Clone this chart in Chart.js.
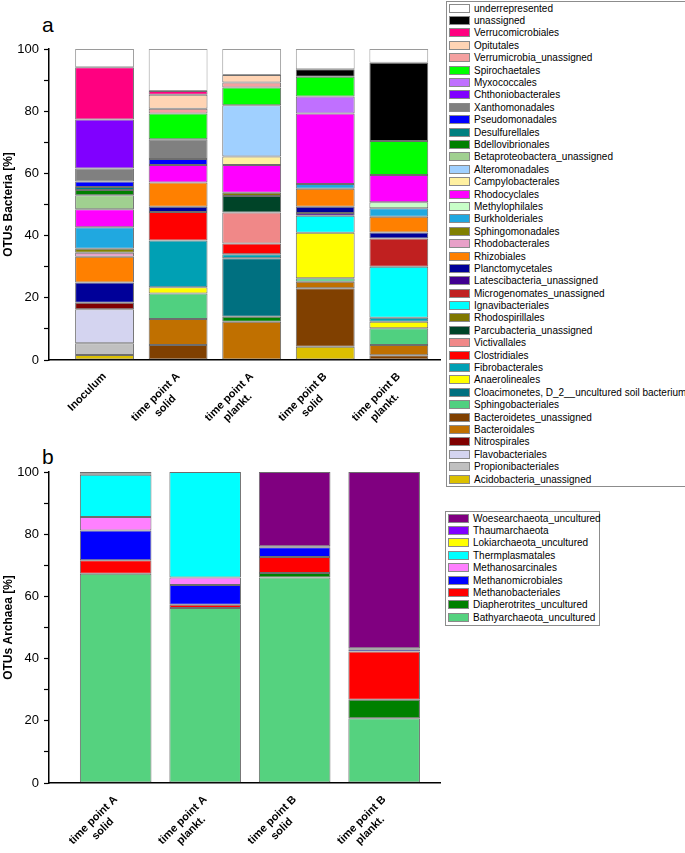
<!DOCTYPE html>
<html>
<head>
<meta charset="utf-8">
<script src="https://cdn.jsdelivr.net/npm/chart.js@4"></script>
<style>
  body { margin: 0; width: 685px; height: 853px; position: relative; background: #fff; overflow: hidden;
         font-family: "Liberation Sans", Arial, sans-serif; }
  canvas { position: absolute; left: 0; }
  #chartA { top: 0; }
  #chartB { top: 452px; }
  .panel-tag { position: absolute; left: 42px; font-size: 21px; line-height: 21px; color: #000; }
  .legend { position: absolute; border: 1px solid #8c8c8c; background: #fff; box-sizing: border-box; }
  .legend-row { height: 12.4px; display: flex; align-items: center; font-size: 10px; color: #000; white-space: nowrap; }
  .legend-row .sw { width: 19px; height: 7px; border: 1px solid #8a8a8a; margin: 0 4px 0 2px; flex: none; }
</style>
</head>
<body>
<div class="panel-tag" style="top:14px;">a</div>
<div class="panel-tag" style="top:446px;">b</div>
<canvas id="chartA" width="443" height="452"></canvas>
<canvas id="chartB" width="443" height="401"></canvas>
<div class="legend" id="legendA" style="left:446px; top:1px; width:240px; height:486px;"></div>
<div class="legend" id="legendB" style="left:445px; top:511px; width:155px; height:115px;"></div>

<script>
// ---- panel a: bacteria ----
const categoriesA = ['Inoculum', ['time point A', 'solid'], ['time point A', 'plankt.'],
                     ['time point B', 'solid'], ['time point B', 'plankt.']];

const acidobacteria       = [1.6, 0, 0, 4.3, 0];
const propionibacteriales = [3.8, 0, 0, 0, 0];
const flavobacteriales    = [10.9, 0, 0, 0, 0];
const nitrospirales       = [2.1, 0, 0, 0, 0];
const bacteroidetesUn     = [0, 4.8, 0, 18.8, 1.5];
const bacteroidales       = [0, 8.4, 12.3, 2.1, 3.3];
const bdelloLow           = [0, 0, 1.6, 0, 0];
const sphingobacteriales  = [0, 8.2, 0, 1.1, 5.4];
const cloacimonetes       = [0, 0, 18.8, 0, 0];
const anaerolineales      = [0, 2.0, 0, 14.6, 2.1];
const fibrobacterales     = [0, 15.0, 1.3, 0, 1.3];
const clostridiales       = [0, 9.2, 3.5, 0, 0];
const victivallales       = [0, 0, 9.9, 0, 0];
const parcubacteria       = [0, 0, 5.3, 0, 0];
const rhodospirillales    = [0, 0, 1.1, 0, 0];
const ignavibacteriales   = [0, 0, 0, 5.5, 16.4];
const microgenomates      = [0, 0, 0, 0, 9.1];
const latescibacteria     = [0, 0, 0, 0.9, 0];
const planctomycetales    = [6.5, 1.7, 0, 2.0, 1.9];
const rhizobiales         = [8.3, 7.8, 0, 5.8, 5.1];
const rhodobacterales     = [1.3, 0, 0, 0, 0];
const sphingomonadales    = [1.3, 0, 0, 0, 0];
const burkholderiales     = [6.9, 0, 0, 1.5, 2.7];
const methylophilales     = [0, 0, 0, 0, 1.9];
const rhodocyclales       = [5.8, 5.6, 8.9, 22.7, 8.8];
const campylobacterales   = [0, 0, 2.7, 0, 0];
const alteromonadales     = [0, 0, 16.5, 0, 0];
const betaproteobactera   = [4.5, 0, 0, 0, 0];
const bdellovibrionales   = [1.7, 0, 0, 0, 0];
const desulfurellales     = [0.9, 0, 0, 0, 0];
const pseudomonadales     = [1.8, 1.9, 0, 0, 0];
const xanthomonadales     = [4.2, 6.4, 0, 0, 0];
const chthoniobacterales  = [15.7, 0, 0, 0, 0];
const myxococcales        = [0, 0, 0, 5.4, 0];
const spirochaetales      = [0, 8.3, 5.7, 6.4, 10.9];
const verrumicrobiaUn     = [0, 1.5, 1.6, 0, 0];
const opitutales          = [0, 4.5, 2.4, 0, 0];
const verrucomicrobiales  = [16.8, 1.2, 0, 0, 0];
const unassigned          = [0, 0, 0, 2.4, 25.2];
const underrepresented    = [5.9, 13.5, 8.4, 6.5, 4.4];

// stack order, bottom first: [label, colour, values]
const seriesA = [
  ['Acidobacteria_unassigned', '#dcc000', acidobacteria],
  ['Propionibacteriales', '#c0c0c0', propionibacteriales],
  ['Flavobacteriales', '#d4d4f0', flavobacteriales],
  ['Nitrospirales', '#800000', nitrospirales],
  ['Bacteroidetes_unassigned', '#804000', bacteroidetesUn],
  ['Bacteroidales', '#c07000', bacteroidales],
  ['Bdellovibrionales', '#008000', bdelloLow],
  ['Sphingobacteriales', '#50d080', sphingobacteriales],
  ['Cloacimonetes, D_2__uncultured soil bacterium', '#007080', cloacimonetes],
  ['Anaerolineales', '#ffff00', anaerolineales],
  ['Fibrobacterales', '#00a0b4', fibrobacterales],
  ['Clostridiales', '#ff0000', clostridiales],
  ['Victivallales', '#f08888', victivallales],
  ['Parcubacteria_unassigned', '#004428', parcubacteria],
  ['Rhodospirillales', '#807800', rhodospirillales],
  ['Ignavibacteriales', '#00ffff', ignavibacteriales],
  ['Microgenomates_unassigned', '#c02020', microgenomates],
  ['Latescibacteria_unassigned', '#400090', latescibacteria],
  ['Planctomycetales', '#000099', planctomycetales],
  ['Rhizobiales', '#ff8000', rhizobiales],
  ['Rhodobacterales', '#e8a0c8', rhodobacterales],
  ['Sphingomonadales', '#808000', sphingomonadales],
  ['Burkholderiales', '#20a8e0', burkholderiales],
  ['Methylophilales', '#c8ffc8', methylophilales],
  ['Rhodocyclales', '#ff00ff', rhodocyclales],
  ['Campylobacterales', '#fff0a0', campylobacterales],
  ['Alteromonadales', '#a0d0ff', alteromonadales],
  ['Betaproteobactera_unassigned', '#a0d090', betaproteobactera],
  ['Bdellovibrionales', '#008000', bdellovibrionales],
  ['Desulfurellales', '#008080', desulfurellales],
  ['Pseudomonadales', '#0000ff', pseudomonadales],
  ['Xanthomonadales', '#808080', xanthomonadales],
  ['Chthoniobacterales', '#8000ff', chthoniobacterales],
  ['Myxococcales', '#c070ff', myxococcales],
  ['Spirochaetales', '#00ff00', spirochaetales],
  ['Verrumicrobia_unassigned', '#f4a0a0', verrumicrobiaUn],
  ['Opitutales', '#ffd4b4', opitutales],
  ['Verrucomicrobiales', '#ff0080', verrucomicrobiales],
  ['unassigned', '#000000', unassigned],
  ['underrepresented', '#ffffff', underrepresented]
];

const legendOrderA = ['underrepresented', 'unassigned', 'Verrucomicrobiales', 'Opitutales',
  'Verrumicrobia_unassigned', 'Spirochaetales', 'Myxococcales', 'Chthoniobacterales', 'Xanthomonadales',
  'Pseudomonadales', 'Desulfurellales', 'Bdellovibrionales', 'Betaproteobactera_unassigned',
  'Alteromonadales', 'Campylobacterales', 'Rhodocyclales', 'Methylophilales', 'Burkholderiales',
  'Sphingomonadales', 'Rhodobacterales', 'Rhizobiales', 'Planctomycetales', 'Latescibacteria_unassigned',
  'Microgenomates_unassigned', 'Ignavibacteriales', 'Rhodospirillales', 'Parcubacteria_unassigned',
  'Victivallales', 'Clostridiales', 'Fibrobacterales', 'Anaerolineales',
  'Cloacimonetes, D_2__uncultured soil bacterium', 'Sphingobacteriales', 'Bacteroidetes_unassigned',
  'Bacteroidales', 'Nitrospirales', 'Flavobacteriales', 'Propionibacteriales', 'Acidobacteria_unassigned'];

// ---- panel b: archaea ----
const categoriesB = [['time point A', 'solid'], ['time point A', 'plankt.'],
                     ['time point B', 'solid'], ['time point B', 'plankt.']];

const bathyarchaeota     = [67.3, 56.3, 66.1, 20.8];
const diapherotrites     = [0, 0, 1.4, 6.0];
const methanobacteriales = [4.3, 1.0, 5.2, 15.5];
const methanomicrobiales = [9.6, 6.4, 3.1, 0.7];
const methanosarcinales  = [4.3, 2.4, 0.3, 0.3];
const thermplasmatales   = [13.6, 33.9, 0, 0];
const lokiarchaeota      = [0, 0, 0, 0];
const thaumarchaeota     = [0.3, 0, 0, 0];
const woesearchaeota     = [0.6, 0, 23.9, 56.7];

const seriesB = [
  ['Bathyarchaeota_uncultured', '#55d27f', bathyarchaeota],
  ['Diapherotrites_uncultured', '#008000', diapherotrites],
  ['Methanobacteriales', '#ff0000', methanobacteriales],
  ['Methanomicrobiales', '#0000ff', methanomicrobiales],
  ['Methanosarcinales', '#ff80ff', methanosarcinales],
  ['Thermplasmatales', '#00ffff', thermplasmatales],
  ['Lokiarchaeota_uncultured', '#ffff00', lokiarchaeota],
  ['Thaumarchaeota', '#8000ff', thaumarchaeota],
  ['Woesearchaeota_uncultured', '#800080', woesearchaeota]
];
const legendOrderB = seriesB.map(s => s[0]).reverse();

const yTicks = [0, 20, 40, 60, 80, 100];

const FONT = '"Liberation Sans", Arial, sans-serif';
const measureCtx = document.createElement('canvas').getContext('2d');

// second label line is centred under the first in the original; Chart.js right-aligns
// rotated labels, so pad the shorter line with trailing spaces
function centredLines(label) {
  if (!Array.isArray(label)) return label;
  measureCtx.font = 'bold 11px ' + FONT;
  const w0 = measureCtx.measureText(label[0]).width;
  const sp = measureCtx.measureText(' ').width;
  return label.map((line, i) => {
    if (i === 0) return line;
    const n = Math.max(0, Math.round((w0 - measureCtx.measureText(line).width) / 2 / sp));
    return line + ' '.repeat(n);
  });
}

function buildLegend(id, order, series) {
  const box = document.getElementById(id);
  order.forEach(label => {
    const s = series.find(x => x[0] === label);
    const row = document.createElement('div');
    row.className = 'legend-row';
    row.innerHTML = `<span class="sw" style="background:${s[1]}"></span><span>${label}</span>`;
    box.appendChild(row);
  });
}

function makeChart(canvasId, cats, series, opts) {
  const datasets = series.map(([label, color, values]) => ({
    label,
    data: values.map((v, i) => ({ x: i + 1, y: v > 0 ? v : null })),
    backgroundColor: color,
    borderColor: color === '#ffffff' ? '#9a9a9a' : 'rgba(60,60,60,0.75)',
    borderWidth: 1,
    borderSkipped: false,
    barPercentage: 0.8,
    categoryPercentage: 1
  }));

  return new Chart(document.getElementById(canvasId), {
    type: 'bar',
    data: { datasets },
    options: {
      responsive: false,
      animation: false,
      layout: { padding: { top: opts.top, right: 3, left: 0, bottom: 0 } },
      plugins: { legend: { display: false }, tooltip: { enabled: false } },
      scales: {
        x: {
          type: 'linear',
          stacked: true,
          offset: false,
          min: opts.xMin,
          max: opts.xMax,
          afterBuildTicks: s => { s.ticks = cats.map((_, i) => ({ value: i + 1 })); },
          afterFit: s => { s.height = opts.xHeight; },
          grid: { display: false },
          border: { display: true, color: '#000', width: 1.5 },
          ticks: {
            autoSkip: false,
            minRotation: 45,
            maxRotation: 45,
            padding: 2,
            color: '#000',
            font: { family: FONT, size: 11, weight: 'bold' },
            callback: v => centredLines(cats[v - 1])
          }
        },
        y: {
          stacked: true,
          min: 0,
          max: 100,
          afterFit: s => { s.width = 49; },
          grid: { drawOnChartArea: false, color: '#000', tickLength: 5, tickWidth: 1.2 },
          border: { display: true, color: '#000', width: 1.5 },
          ticks: {
            stepSize: 10,
            padding: 5,
            color: '#000',
            font: { family: FONT, size: 13 },
            callback: v => yTicks.includes(v) ? v : ''
          },
          title: {
            display: true,
            text: opts.yTitle,
            color: '#000',
            padding: { top: 1, bottom: 0 },
            font: { family: FONT, size: 12, weight: 'bold' }
          }
        }
      }
    }
  });
}

makeChart('chartA', categoriesA, seriesA, { top: 49, xMin: 0.245, xMax: 5.56, xHeight: 92, yTitle: 'OTUs Bacteria [%]' });
makeChart('chartB', categoriesB, seriesB, { top: 20, xMin: 0.255, xMax: 4.624, xHeight: 70, yTitle: 'OTUs Archaea [%]' });

buildLegend('legendA', legendOrderA, seriesA);
buildLegend('legendB', legendOrderB, seriesB);
</script>
</body>
</html>
